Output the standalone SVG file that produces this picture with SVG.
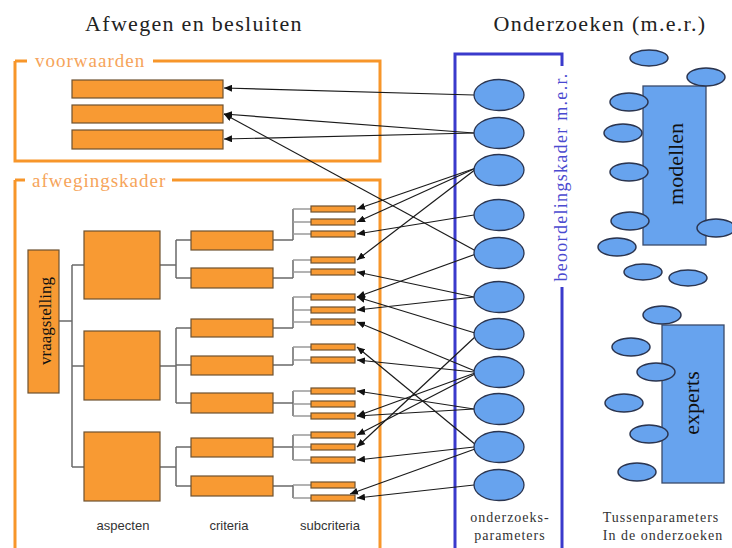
<svg xmlns="http://www.w3.org/2000/svg" width="732" height="548" viewBox="0 0 732 548">
<defs>
<style>
.ttl{font-family:"Liberation Serif","Times New Roman",Tinos,"Noto Serif","DejaVu Serif",FreeSerif,serif;font-size:22px;fill:#222;letter-spacing:1.3px}
.frm{fill:none;stroke:#f7962a;stroke-width:3}
.flab{font-family:"Liberation Serif","Times New Roman",Tinos,"Noto Serif","DejaVu Serif",FreeSerif,serif;font-size:19px;fill:#f6a45a;letter-spacing:1px}
.box{fill:#f89a33;stroke:#6e5230;stroke-width:1.2}
.tree{fill:none;stroke:#6a6a6a;stroke-width:1.5}
.stub{fill:none;stroke:#9a9a9a;stroke-width:1.5}
.blu{fill:none;stroke:#3a3acc;stroke-width:3}
.ell{fill:#67a3ee;stroke:#2b3550;stroke-width:1.3}
.sell{fill:#67a3ee;stroke:#2b3550;stroke-width:1.5}
.brect{fill:#67a3ee;stroke:#3a4a6a;stroke-width:1.3}
.con line{stroke:#1a1a1a;stroke-width:1.2;marker-end:url(#ah)}
.lab{font-family:"Liberation Sans",Arial,"DejaVu Sans",sans-serif;font-size:13px;fill:#333;text-anchor:middle}
.slab{font-family:"Liberation Serif","Times New Roman",Tinos,"Noto Serif","DejaVu Serif",FreeSerif,serif;font-size:14px;fill:#333;text-anchor:middle;letter-spacing:1px}
.vt{font-family:"Liberation Serif","Times New Roman",Tinos,"Noto Serif","DejaVu Serif",FreeSerif,serif;text-anchor:middle;fill:#111}
.bk{font-family:"Liberation Serif","Times New Roman",Tinos,"Noto Serif","DejaVu Serif",FreeSerif,serif;font-size:18px;fill:#4a4ad0;text-anchor:middle;letter-spacing:1.3px}
</style>
<marker id="ah" markerUnits="userSpaceOnUse" markerWidth="8" markerHeight="7" refX="8" refY="3.5" orient="auto">
<path d="M0,0 L8,3.5 L0,7 z" fill="#111"/>
</marker>
</defs>
<rect width="732" height="548" fill="#ffffff"/>

<g id="titles">
<text class="ttl" x="194" y="31" text-anchor="middle">Afwegen en besluiten</text>
<text class="ttl" x="600" y="31" text-anchor="middle">Onderzoeken (m.e.r.)</text>
</g>

<g id="voorwaarden-frame">
<path class="frm" d="M15,61 H27 M153,61 H380 V161 H15 V61"/>
<text class="flab" x="35" y="67">voorwaarden</text>
</g>
<g id="afwegingskader-frame">
<path class="frm" d="M15,180 H25 M172,180 H380 V548 M15,180 V548"/>
<text class="flab" x="32" y="187">afwegingskader</text>
</g>

<g id="voorwaarden">
<rect class="box" x="72" y="80" width="151" height="18"/>
<rect class="box" x="72" y="105" width="151" height="18"/>
<rect class="box" x="72" y="130" width="151" height="19"/>
</g>

<g id="tree-lines">
<path class="tree" d="M59,321 H72 M72,265 V467 M72,265 H84 M72,366 H84 M72,467 H84"/>
<path class="tree" d="M160,265 H176 M176,240 V278 M176,240 H191 M176,278 H191"/>
<path class="tree" d="M160,366 H176 M176,328 V403 M176,328 H191 M176,365 H191 M176,403 H191"/>
<path class="tree" d="M160,467 H176 M176,447 V486 M176,447 H191 M176,486 H191"/>
<path class="tree" d="M273,240 H293 M293,209 V240 M273,278 H293 M293,260 V278 M273,328 H293 M293,297 V328 M273,365 H293 M293,347 V365 M273,403 H293 M293,391 V416 M273,447 H293 M293,435 V460 M273,486 H293 M293,485 V498"/>
<path class="stub" d="M293,209 H311 M293,222 H311 M293,234 H311 M293,260 H311 M293,272 H311 M293,297 H311 M293,310 H311 M293,322 H311 M293,347 H311 M293,360 H311 M293,391 H311 M293,404 H311 M293,416 H311 M293,435 H311 M293,447 H311 M293,460 H311 M293,485 H311 M293,498 H311"/>
</g>

<g id="vraagstelling">
<rect class="box" x="28" y="250" width="31" height="143"/>
<text class="vt" font-size="17" transform="translate(51,321) rotate(-90)">vraagstelling</text>
</g>

<g id="aspecten">
<rect class="box" x="84" y="231" width="76" height="68"/>
<rect class="box" x="84" y="331" width="76" height="69"/>
<rect class="box" x="84" y="432" width="76" height="69"/>
</g>

<g id="criteria">
<rect class="box" x="191" y="231" width="82" height="19"/>
<rect class="box" x="191" y="268" width="82" height="20"/>
<rect class="box" x="191" y="319" width="82" height="18"/>
<rect class="box" x="191" y="356" width="82" height="19"/>
<rect class="box" x="191" y="393" width="82" height="20"/>
<rect class="box" x="191" y="438" width="82" height="19"/>
<rect class="box" x="191" y="476" width="82" height="20"/>
</g>

<g id="subcriteria">
<rect class="box" x="311" y="206" width="44" height="6"/>
<rect class="box" x="311" y="219" width="44" height="6"/>
<rect class="box" x="311" y="231" width="44" height="6"/>
<rect class="box" x="311" y="257" width="44" height="6"/>
<rect class="box" x="311" y="269" width="44" height="6"/>
<rect class="box" x="311" y="294" width="44" height="6"/>
<rect class="box" x="311" y="307" width="44" height="6"/>
<rect class="box" x="311" y="319" width="44" height="6"/>
<rect class="box" x="311" y="344" width="44" height="6"/>
<rect class="box" x="311" y="357" width="44" height="6"/>
<rect class="box" x="311" y="388" width="44" height="6"/>
<rect class="box" x="311" y="401" width="44" height="6"/>
<rect class="box" x="311" y="413" width="44" height="6"/>
<rect class="box" x="311" y="432" width="44" height="6"/>
<rect class="box" x="311" y="444" width="44" height="6"/>
<rect class="box" x="311" y="457" width="44" height="6"/>
<rect class="box" x="311" y="482" width="44" height="6"/>
<rect class="box" x="311" y="495" width="44" height="6"/>
</g>

<g id="tree-labels">
<text class="lab" x="123" y="530">aspecten</text>
<text class="lab" x="229" y="530">criteria</text>
<text class="lab" x="330" y="530">subcriteria</text>
</g>

<g id="beoordelingskader">
<path class="blu" d="M455,548 V54 H562 V66 M562,287 V548"/>
<text class="bk" transform="translate(567,177) rotate(-90)">beoordelingskader m.e.r.</text>
</g>

<g id="connectors" class="con">
<line x1="474" y1="95" x2="224" y2="88"/>
<line x1="474" y1="133" x2="224" y2="114"/>
<line x1="474" y1="133" x2="224" y2="139"/>
<line x1="476" y1="251" x2="224" y2="114"/>
<line x1="476" y1="168" x2="357" y2="209"/>
<line x1="476" y1="168" x2="357" y2="222"/>
<line x1="476" y1="169" x2="357" y2="260"/>
<line x1="474" y1="215" x2="357" y2="234"/>
<line x1="476" y1="254" x2="357" y2="297"/>
<line x1="474" y1="297" x2="357" y2="272"/>
<line x1="474" y1="297" x2="357" y2="310"/>
<line x1="475" y1="333" x2="357" y2="297"/>
<line x1="476" y1="336" x2="357" y2="447"/>
<line x1="475" y1="371" x2="357" y2="322"/>
<line x1="474" y1="372" x2="357" y2="360"/>
<line x1="475" y1="373" x2="357" y2="416"/>
<line x1="475" y1="374" x2="357" y2="435"/>
<line x1="474" y1="409" x2="357" y2="391"/>
<line x1="474" y1="409" x2="357" y2="416"/>
<line x1="476" y1="445" x2="357" y2="347"/>
<line x1="474" y1="447" x2="357" y2="460"/>
<line x1="475" y1="449" x2="350" y2="494"/>
<line x1="474" y1="485" x2="357" y2="498"/>
</g>

<g id="onderzoeksparameters">
<ellipse class="ell" cx="499" cy="95" rx="25" ry="15.5"/>
<ellipse class="ell" cx="499" cy="133" rx="25" ry="15.5"/>
<ellipse class="ell" cx="499" cy="170" rx="25" ry="15.5"/>
<ellipse class="ell" cx="499" cy="215" rx="25" ry="15.5"/>
<ellipse class="ell" cx="499" cy="253" rx="25" ry="15.5"/>
<ellipse class="ell" cx="499" cy="297" rx="25" ry="15.5"/>
<ellipse class="ell" cx="499" cy="334" rx="25" ry="15.5"/>
<ellipse class="ell" cx="499" cy="372" rx="25" ry="15.5"/>
<ellipse class="ell" cx="499" cy="409" rx="25" ry="15.5"/>
<ellipse class="ell" cx="499" cy="447" rx="25" ry="15.5"/>
<ellipse class="ell" cx="499" cy="485" rx="25" ry="15.5"/>
<text class="slab" x="510" y="522">onderzoeks-</text>
<text class="slab" x="510" y="540">parameters</text>
</g>

<g id="modellen">
<rect class="brect" x="643" y="86" width="63" height="159"/>
<text class="vt" font-size="22" transform="translate(683,164) rotate(-90)">modellen</text>
<ellipse class="sell" cx="649" cy="58" rx="19" ry="8"/>
<ellipse class="sell" cx="706" cy="77" rx="19" ry="9"/>
<ellipse class="sell" cx="629" cy="102" rx="19" ry="9"/>
<ellipse class="sell" cx="623" cy="133" rx="19" ry="9"/>
<ellipse class="sell" cx="629" cy="172" rx="19" ry="9"/>
<ellipse class="sell" cx="630" cy="221" rx="19" ry="9"/>
<ellipse class="sell" cx="716" cy="228" rx="19" ry="9"/>
<ellipse class="sell" cx="617" cy="247" rx="19" ry="9"/>
<ellipse class="sell" cx="643" cy="272" rx="19" ry="8"/>
<ellipse class="sell" cx="688" cy="278" rx="19" ry="8"/>
</g>

<g id="experts">
<rect class="brect" x="662" y="325" width="62" height="158"/>
<text class="vt" font-size="22" transform="translate(699,403) rotate(-90)">experts</text>
<ellipse class="sell" cx="662" cy="315" rx="19" ry="9"/>
<ellipse class="sell" cx="631" cy="347" rx="19" ry="9"/>
<ellipse class="sell" cx="656" cy="372" rx="19" ry="9"/>
<ellipse class="sell" cx="624" cy="403" rx="19" ry="9"/>
<ellipse class="sell" cx="649" cy="434" rx="19" ry="9"/>
<ellipse class="sell" cx="637" cy="472" rx="19" ry="9"/>
<text class="slab" x="661" y="522">Tussenparameters</text>
<text class="slab" x="663" y="540">In de onderzoeken</text>
</g>
</svg>
